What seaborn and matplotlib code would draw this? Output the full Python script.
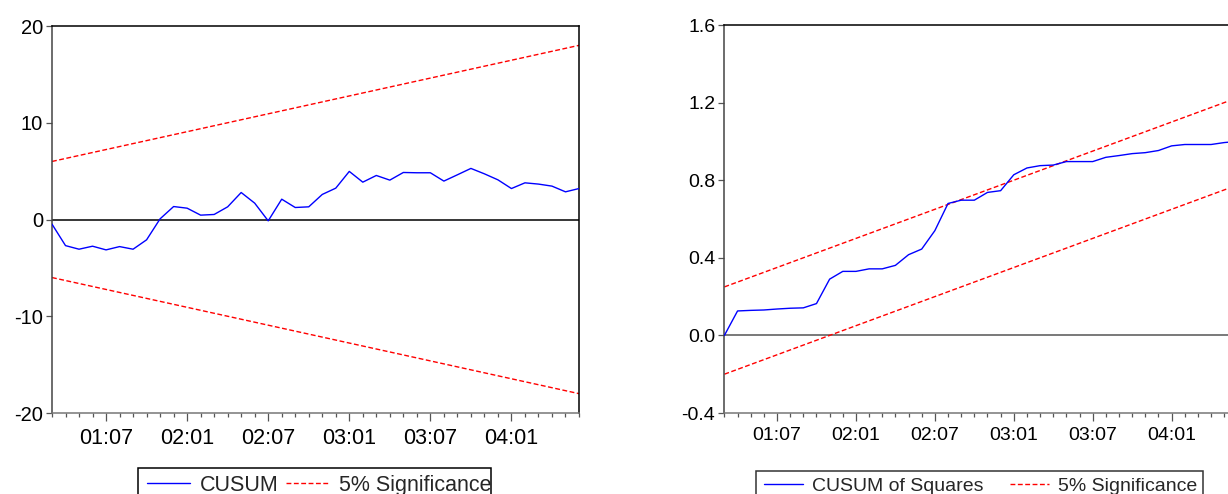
import numpy as np
import pandas as pd
import matplotlib
matplotlib.use("Agg")
import matplotlib.pyplot as plt
import seaborn as sns
from matplotlib.patches import Rectangle
from matplotlib.lines import Line2D

# monthly sample 2001:03 - 2004:06
months = pd.date_range("2001-03-01", "2004-06-01", freq="MS")
tick_labels = ["01:07", "02:01", "02:07", "03:01", "03:07", "04:01"]

cusum = [-0.48, -2.7, -3.07, -2.76, -3.14, -2.8, -3.07, -2.1, 0.07, 1.34,
         1.17, 0.45, 0.52, 1.31, 2.79, 1.69, -0.14, 2.1, 1.24, 1.31,
         2.59, 3.24, 4.97, 3.86, 4.55, 4.07, 4.86, 4.83, 4.83, 3.97,
         4.62, 5.28, 4.72, 4.1, 3.2, 3.79, 3.66, 3.45, 2.86, 3.2]

cusum_sq = [0.0, 0.126, 0.129, 0.131, 0.136, 0.14, 0.142, 0.164, 0.29, 0.33,
            0.33, 0.343, 0.343, 0.361, 0.416, 0.445, 0.54, 0.68, 0.697, 0.697,
            0.737, 0.746, 0.828, 0.863, 0.875, 0.878, 0.896, 0.896, 0.896, 0.918,
            0.927, 0.937, 0.942, 0.953, 0.977, 0.984, 0.984, 0.984, 0.994, 1.0]

# 5% significance bands, values at first and last observation
cusum_upper = [6.0, 18.0]
cusum_lower = [-6.0, -18.0]
sq_upper = [0.25, 1.225]
sq_lower = [-0.20, 0.775]

sns.set_theme(style="white")
plt.rcParams["font.family"] = ["Liberation Sans", "DejaVu Sans"]
plt.rcParams["axes.unicode_minus"] = False

labels_all = [m.strftime("%y:%m") for m in months]
df = pd.DataFrame({"t": np.arange(len(months)), "label": labels_all,
                   "cusum": cusum, "cusum_sq": cusum_sq})
ends = pd.DataFrame({"t": [0, len(months) - 1],
                     "cu_up": cusum_upper, "cu_lo": cusum_lower,
                     "sq_up": sq_upper, "sq_lo": sq_lower})

W, H = 1228, 494
fig = plt.figure(figsize=(W / 100, H / 100), dpi=100)
ax1 = fig.add_axes([52 / W, 1 - 413 / H, 527 / W, 387 / H])
ax2 = fig.add_axes([724.4 / W, 1 - 413 / H, 513 / W, 388 / H])

BLUE = "#0000ff"
RED = "#ff0000"


def draw(ax, col, up, lo, zero_color, xsize, ysize, xpad):
    ax.axhline(0, color=zero_color, lw=1.1, zorder=1)
    sns.lineplot(data=df, x="t", y=col, ax=ax, color=BLUE, linewidth=1.0, zorder=3)
    for c in (up, lo):
        sns.lineplot(data=ends, x="t", y=c, ax=ax, color=RED, linewidth=1.0, zorder=2)
        ax.lines[-1].set_dashes([3.5, 1.8])
    ax.set_xlim(0, len(months) - 1)
    ax.set_xlabel("")
    ax.set_ylabel("")
    major = [labels_all.index(l) for l in tick_labels]
    ax.set_xticks(major)
    ax.set_xticklabels(tick_labels)
    ax.set_xticks(np.arange(len(months)), minor=True)
    ax.tick_params(bottom=True, left=True, which="both")
    ax.tick_params(axis="x", which="major", direction="out", length=5.5, width=0.9,
                   color="#555555", labelsize=xsize, pad=xpad)
    ax.tick_params(axis="x", which="minor", direction="out", length=3.2, width=0.9,
                   color="#555555")
    ax.tick_params(axis="y", direction="out", length=4.5, width=0.9,
                   color="#555555", labelsize=ysize, pad=2)
    ax.tick_params(labelcolor="black")
    ax.spines["top"].set_color("black")
    ax.spines["right"].set_color("black")
    ax.spines["left"].set_color("#444444")
    ax.spines["bottom"].set_color("#777777")
    for s in ax.spines.values():
        s.set_linewidth(1.1)


draw(ax1, "cusum", "cu_up", "cu_lo", "black", 15.5, 14.5, 5.5)
ax1.set_ylim(-20, 20)
ax1.set_yticks([-20, -10, 0, 10, 20])

draw(ax2, "cusum_sq", "sq_up", "sq_lo", "#555555", 14, 14, 4.5)
ax2.set_ylim(-0.4, 1.6)
ax2.set_yticks([-0.4, 0.0, 0.4, 0.8, 1.2, 1.6])
ax2.set_yticklabels([f"{v:.1f}" for v in [-0.4, 0.0, 0.4, 0.8, 1.2, 1.6]])


def legend_handles():
    blue = Line2D([], [], color=BLUE, lw=1.0)
    red = Line2D([], [], color=RED, lw=1.0, dashes=[3.5, 1.8])
    return blue, red


b, r = legend_handles()
fig.legend([b, r], ["CUSUM", "5% Significance"], loc="center left",
           bbox_to_anchor=(147 / W, 1 - 485 / H), ncol=2, frameon=False,
           fontsize=15.5, handlelength=2.0, handletextpad=0.45, columnspacing=0.35,
           borderpad=0, borderaxespad=0)
fig.patches.append(Rectangle((138 / W, -0.1), (491 - 138) / W, 0.1 + 1 - 468 / H,
                             transform=fig.transFigure, fill=False,
                             edgecolor="black", lw=1.1))

b, r = legend_handles()
fig.legend([b, r], ["CUSUM of Squares", "5% Significance"], loc="center left",
           bbox_to_anchor=(764 / W, 1 - 486 / H), ncol=2, frameon=False,
           fontsize=14, handlelength=2.0, handletextpad=0.45, columnspacing=1.4,
           borderpad=0, borderaxespad=0)
fig.patches.append(Rectangle((756 / W, -0.1), (1203 - 756) / W, 0.1 + 1 - 471 / H,
                             transform=fig.transFigure, fill=False,
                             edgecolor="#333333", lw=1.1))

fig.savefig("out.png", dpi=100)
